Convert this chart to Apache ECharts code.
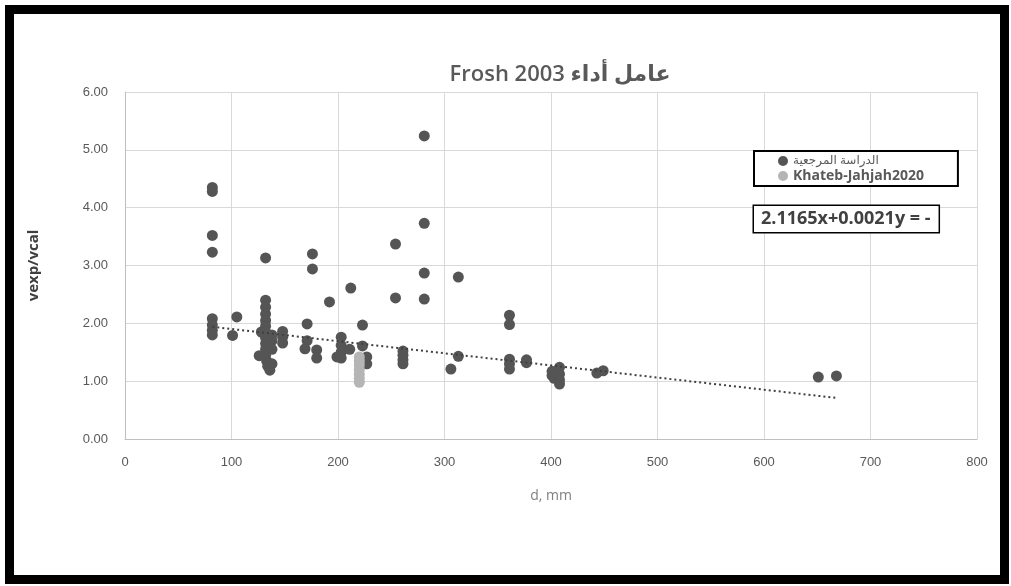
<!DOCTYPE html>
<html>
<head>
<meta charset="utf-8">
<script src="https://cdn.jsdelivr.net/npm/echarts@6/dist/echarts.min.js"></script>
<style>
html,body{margin:0;padding:0;background:#fff;}
#chart{width:1011px;height:586px;}
</style>
</head>
<body>
<div id="chart"></div>
<script>
// ---- data ----
const titleText = '\u202Bعامل أداء Frosh 2003\u202C';
const seriesNames = ['الدراسة المرجعية', 'Khateb-Jahjah2020'];
const xTickValues = [0, 100, 200, 300, 400, 500, 600, 700, 800];
const yTickValues = [0, 1, 2, 3, 4, 5, 6];
const equationText = '2.1165x+0.0021y = -';

// reference study points [d (mm), vexp/vcal]
const referencePoints = [
  [82,4.35],[82,4.28],[82,3.52],[82,3.23],[82,2.08],[82,1.97],[82,1.88],[82,1.80],
  [105,2.11],[101,1.79],
  [126,1.44],[128,1.85],
  [132,3.13],[132,2.40],[132,2.28],[132,2.16],[132,2.05],[132,1.95],[132,1.85],[132,1.75],
  [132,1.65],[132,1.55],[132,1.45],[133,1.35],[134,1.26],[136,1.19],
  [138,1.80],[138,1.70],[138,1.55],[138,1.30],
  [148,1.86],[148,1.76],[148,1.66],
  [171,1.99],[171,1.70],[169,1.56],
  [176,3.20],[176,2.94],
  [180,1.54],[180,1.40],
  [192,2.37],
  [203,1.76],[203,1.62],[203,1.50],[203,1.40],[199,1.42],
  [212,2.61],[211,1.55],
  [223,1.97],[223,1.61],[227,1.42],[227,1.30],
  [254,3.37],[254,2.44],
  [261,1.52],[261,1.45],[261,1.37],[261,1.30],
  [281,5.24],[281,3.73],[281,2.87],[281,2.42],
  [313,2.80],[313,1.43],[306,1.21],
  [361,2.14],[361,1.98],[361,1.38],[361,1.30],[361,1.21],
  [377,1.37],[377,1.32],
  [401,1.17],[401,1.10],[403,1.05],
  [408,1.24],[408,1.12],[408,1.02],[408,0.95],
  [443,1.14],[449,1.18],
  [651,1.07],[668,1.09]
];

// Khateb-Jahjah2020 points
const khatebPoints = [
  [220,1.42],[220,1.35],[220,1.28],[220,1.20],[220,1.12],[220,1.05],[220,0.98]
];

// linear trendline end points
const trendPoints = [[82,1.94],[668,0.71]];

const chart = echarts.init(document.getElementById('chart'), null, {renderer:'canvas'});
const txt = '#595959';
const font = '"Open Sans","DejaVu Sans",sans-serif';

const option = {
  backgroundColor: '#ffffff',
  animation: false,
  grid: {left: 125, right: 34, top: 92, bottom: 147},
  graphic: [
    {type:'rect', z:100, silent:true,
     shape:{x:9.5, y:9.5, width:995, height:570},
     style:{fill:'none', stroke:'#000', lineWidth:9}},
    {type:'text', z:100, x:560, y:75,
     style:{text:titleText, textAlign:'center', textVerticalAlign:'middle',
       fill:txt, font:'600 22px ' + font}},
    {type:'text', z:100, x:754, y:206,
     style:{text:equationText, fill:'#404040',
       font:'bold 18px ' + font,
       backgroundColor:'#fff', borderColor:'#000', borderWidth:1.5,
       padding:[4, 8, 4, 7]}}
  ],
  legend: {
    orient: 'vertical',
    left: 754, top: 151,
    padding: [4, 34, 3, 24],
    itemGap: 2,
    itemWidth: 10, itemHeight: 10,
    borderColor: '#000', borderWidth: 2,
    backgroundColor: '#fff',
    data: [
      {name: seriesNames[0], icon: 'circle', textStyle: {fontSize: 12}},
      {name: seriesNames[1], icon: 'circle', textStyle: {fontSize: 14, fontWeight: 'bold'}}
    ],
    textStyle: {color: txt, fontSize: 12, fontFamily: font}
  },
  xAxis: {
    type: 'value', min: 0, max: 800, interval: 100,
    name: 'd, mm', nameLocation: 'middle', nameGap: 50,
    nameTextStyle: {color: '#7f7f7f', fontSize: 14, fontFamily: font},
    axisLine: {show: true, lineStyle: {color: '#bfbfbf'}},
    axisTick: {show: false},
    axisLabel: {color: txt, fontSize: 13, margin: 17,
      fontFamily: '"Liberation Sans Narrow","Liberation Sans",sans-serif',
      formatter: v => xTickValues.includes(v) ? String(v) : ''},
    splitLine: {show: true, lineStyle: {color: '#d9d9d9'}}
  },
  yAxis: {
    type: 'value', min: 0, max: 6, interval: 1,
    name: 'vexp/vcal', nameLocation: 'middle', nameGap: 84, nameRotate: 90,
    nameTextStyle: {color: '#404040', fontSize: 15, fontWeight: 'bold', fontFamily: font},
    axisLine: {show: true, lineStyle: {color: '#bfbfbf'}},
    axisTick: {show: false},
    axisLabel: {color: txt, fontSize: 13, margin: 17,
      fontFamily: '"Liberation Sans",Arial,sans-serif',
      formatter: v => yTickValues.includes(v) ? v.toFixed(2) : ''},
    splitLine: {show: true, lineStyle: {color: '#d9d9d9'}}
  },
  series: [
    {
      name: seriesNames[0], type: 'scatter', data: referencePoints,
      symbolSize: 11, itemStyle: {color: '#555555', opacity: 1}, z: 3
    },
    {
      name: seriesNames[1], type: 'scatter', data: khatebPoints,
      symbolSize: 11, itemStyle: {color: '#b5b5b5', opacity: 1}, z: 4
    },
    {
      name: 'trend', type: 'line', data: trendPoints,
      symbol: 'none', silent: true, z: 5,
      lineStyle: {color: '#404040', width: 2, type: [2, 3]}
    }
  ]
};
chart.setOption(option);
</script>
</body>
</html>
